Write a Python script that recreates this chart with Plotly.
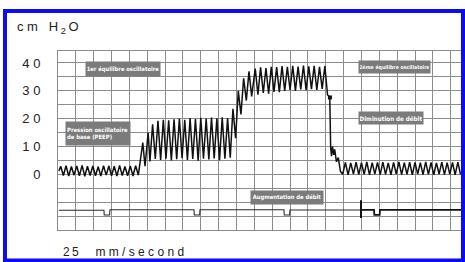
import plotly.graph_objects as go

# ---------------- data ----------------
# time in seconds (25 mm/s paper, 5 mm grid = 0.2 s), pressure in cm H2O
baseline_t = [0.01, 0.03, 0.06, 0.09, 0.12, 0.15, 0.18, 0.21, 0.24, 0.27, 0.30, 0.33,
              0.36, 0.39, 0.42, 0.45, 0.48, 0.51, 0.54, 0.57, 0.60, 0.63, 0.66, 0.69,
              0.72, 0.75, 0.78, 0.81, 0.84, 0.87, 0.90]
baseline_p = [1.2, 2.9, -0.4, 3.1, -0.6, 2.8, -0.3, 3.0, -0.5, 3.2, -0.7, 2.9,
              -0.4, 3.0, -0.5, 2.7, -0.6, 3.1, -0.3, 3.0, -0.5, 2.9, -0.6, 3.2,
              -0.4, 2.8, -0.5, 3.0, -0.6, 3.1, -0.3]

rise1_t = [0.95, 0.975, 1.01, 1.03, 1.06, 1.09]
rise1_p = [11.4, 2.9, 15.0, 4.6, 18.0, 5.5]

plateau1_t = [1.12, 1.15, 1.18, 1.21, 1.24, 1.27, 1.30, 1.33, 1.36, 1.39, 1.42, 1.45,
              1.48, 1.51, 1.54, 1.57, 1.60, 1.63, 1.66, 1.69, 1.72, 1.75, 1.78, 1.81,
              1.84, 1.87, 1.90, 1.93]
plateau1_p = [19.2, 5.2, 19.6, 5.6, 19.4, 5.0, 19.8, 5.4, 20.0, 5.8, 19.6, 5.2,
              20.2, 5.5, 19.9, 4.9, 20.3, 5.6, 20.0, 5.3, 20.4, 5.7, 20.1, 5.1,
              20.5, 5.6, 20.2, 6.0]

rise2_t = [1.96, 1.99, 2.02, 2.05, 2.08, 2.11, 2.14, 2.17]
rise2_p = [23.5, 13.0, 30.0, 21.5, 34.5, 26.5, 37.0, 28.0]

plateau2_t = [2.21, 2.24, 2.27, 2.30, 2.33, 2.36, 2.39, 2.42, 2.45, 2.48, 2.51, 2.54,
              2.57, 2.60, 2.63, 2.66, 2.69, 2.72, 2.75, 2.78, 2.81, 2.84, 2.87, 2.90,
              2.93, 2.96, 2.99]
plateau2_p = [38.0, 28.6, 38.4, 29.2, 38.2, 29.0, 38.6, 29.6, 38.5, 29.5, 38.9, 30.0,
              38.6, 30.3, 39.0, 30.0, 38.7, 30.5, 39.1, 30.2, 38.8, 30.6, 39.0, 30.3,
              38.6, 30.7, 38.9]

drop_t = [3.02, 3.045, 3.055, 3.065, 3.075, 3.09, 3.10, 3.12, 3.14, 3.165]
drop_p = [28.5, 27.8, 9.5, 6.5, 10.0, 7.0, 9.0, 4.5, 6.0, 1.0]

final_t = [3.19, 3.22, 3.25, 3.28, 3.31, 3.34, 3.37, 3.40, 3.43, 3.46, 3.49, 3.52,
           3.55, 3.58, 3.61, 3.64, 3.67, 3.70, 3.73, 3.76, 3.79, 3.82, 3.85, 3.88,
           3.91, 3.94, 3.97, 4.00, 4.03, 4.06, 4.09, 4.12, 4.15, 4.18, 4.21, 4.24,
           4.27, 4.30, 4.33, 4.36, 4.39, 4.42, 4.45, 4.48, 4.51]
final_p = [0.0, 4.3, -0.2, 4.1, 0.1, 4.4, -0.1, 4.2, 0.0, 4.5, -0.2, 4.2,
           0.1, 4.3, -0.1, 4.4, 0.0, 4.1, -0.2, 4.3, 0.1, 4.5, -0.1, 4.2,
           0.0, 4.4, -0.2, 4.3, 0.1, 4.2, -0.1, 4.5, 0.0, 4.3, -0.2, 4.1,
           0.1, 4.4, -0.1, 4.2, 0.0, 4.3, -0.2, 4.4, 0.0]

square_t = [3.047]
square_p = [27.6]

# event (1-second timing) channel
event1_t = [0.01, 0.515, 0.518, 0.578, 0.582, 1.524, 1.527, 1.587, 1.591,
            2.532, 2.535, 2.595, 2.599, 3.395]
event1_p = [-12.9, -12.9, -14.6, -14.6, -12.7, -12.7, -14.6, -14.6, -12.7,
            -12.7, -14.6, -14.6, -12.8, -12.8]
event2_t = [3.395, 3.541, 3.544, 3.604, 3.608, 4.52]
event2_p = [-12.8, -12.8, -14.6, -14.6, -12.8, -12.8]
bar_t = [3.395, 3.395]
bar_p = [-9.3, -15.7]

y_tick_vals = [0, 10, 20, 30, 40]
y_tick_text = ["0", "1\u00a00", "2\u00a00", "3\u00a00", "4\u00a00"]

label_texts = ["1er équilibre oscillatoire",
               "Pression oscillatoire<br>de base (PEEP)",
               "2ème équilibre oscillatoire",
               "Diminution de débit",
               "Augmentation de débit"]

# ---------------- figure ----------------
W, H = 465, 262
L, R, T, B = 58, 4, 51, 32
PW, PH = W - L - R, H - T - B


def px(x):
    return (x - L) / PW


def py(y):
    return (H - B - y) / PH


pressure_t = baseline_t + rise1_t + plateau1_t + rise2_t + plateau2_t + drop_t + final_t
pressure_p = baseline_p + rise1_p + plateau1_p + rise2_p + plateau2_p + drop_p + final_p

fig = go.Figure()
fig.add_trace(go.Scatter(x=pressure_t, y=pressure_p, mode="lines",
                         line=dict(color="#111111", width=1.5), hoverinfo="skip"))
fig.add_trace(go.Scatter(x=square_t, y=square_p, mode="markers",
                         marker=dict(symbol="square", size=4, color="#111"), hoverinfo="skip"))
fig.add_trace(go.Scatter(x=event1_t, y=event1_p, mode="lines",
                         line=dict(color="#2a2a2a", width=1.1), hoverinfo="skip"))
fig.add_trace(go.Scatter(x=event2_t, y=event2_p, mode="lines",
                         line=dict(color="#111", width=1.8), hoverinfo="skip"))
fig.add_trace(go.Scatter(x=bar_t, y=bar_p, mode="lines",
                         line=dict(color="#111", width=2), hoverinfo="skip"))

GRID = "#8c8c8c"
fig.update_xaxes(range=[0, PW / 89.25], tick0=0, dtick=0.2, showticklabels=False,
                 ticks="", showgrid=True, gridcolor=GRID, gridwidth=1, zeroline=False,
                 showline=True, linecolor=GRID, linewidth=1, mirror=True, fixedrange=True)
fig.update_yaxes(range=[-20, 44.3], tickmode="array", tickvals=y_tick_vals, ticktext=y_tick_text,
                 ticks="", ticklabelstandoff=14, showgrid=True, gridcolor=GRID, gridwidth=1,
                 minor=dict(tick0=0, dtick=5, showgrid=True, gridcolor=GRID, gridwidth=1, ticks=""),
                 zeroline=False, showline=True, linecolor=GRID, linewidth=1, mirror=True,
                 tickfont=dict(family="Liberation Sans, Arial, sans-serif", size=13, color="#222"),
                 fixedrange=True)

# grey label boxes: (center x, center y, width, height, alignment, font size) in pixels
boxes = [(123, 69, 74, 14, "center", 5.8),
         (98, 133.5, 64, 23, "left", 5.9),
         (394.5, 66.5, 71, 12, "center", 5.2),
         (391, 118, 64, 12, "center", 6.2),
         (287, 197.5, 72, 13, "center", 5.8)]
annotations = []
for text, (cx, cy, bw, bh, al, fs) in zip(label_texts, boxes):
    annotations.append(dict(x=px(cx), y=py(cy), xref="paper", yref="paper",
                            xanchor="center", yanchor="middle", text=text, showarrow=False,
                            align=al, width=bw - 2, height=bh - 2, borderpad=1,
                            bgcolor="#7b7b7b",
                            font=dict(family="Liberation Sans Narrow, DejaVu Sans Condensed, Roboto, sans-serif",
                                      size=fs, color="white", weight="bold")))

annotations.append(dict(x=px(15), y=py(28), xref="paper", yref="paper", xanchor="left",
                        yanchor="middle", showarrow=False,
                        text="c\u00a0m\u00a0\u00a0\u00a0H\u2009<sub>2</sub>\u2009O",
                        font=dict(family="Liberation Sans, Arial, sans-serif", size=13, color="#222")))
annotations.append(dict(x=px(61), y=py(252), xref="paper", yref="paper", xanchor="left",
                        yanchor="middle", showarrow=False,
                        text="2\u20095\u00a0\u00a0\u00a0\u00a0\u00a0m\u00a0m\u00a0/\u00a0s\u00a0e\u00a0c\u00a0o\u00a0n\u00a0d",
                        font=dict(family="Liberation Sans, Arial, sans-serif", size=12, color="#222")))

shapes = [dict(type="rect", xref="paper", yref="paper", x0=px(5), x1=px(463),
               y0=py(11), y1=py(260.5), line=dict(color="#0b0bf5", width=4),
               fillcolor="rgba(0,0,0,0)", layer="above")]

fig.update_layout(width=W, height=H, autosize=False,
                  margin=dict(l=L, r=R, t=T, b=B, pad=0),
                  paper_bgcolor="white", plot_bgcolor="white", showlegend=False,
                  annotations=annotations, shapes=shapes)

fig.write_html("out.html", config=dict(displayModeBar=False, staticPlot=True),
               post_script="document.body.style.margin='0';document.body.style.overflow='hidden';")
